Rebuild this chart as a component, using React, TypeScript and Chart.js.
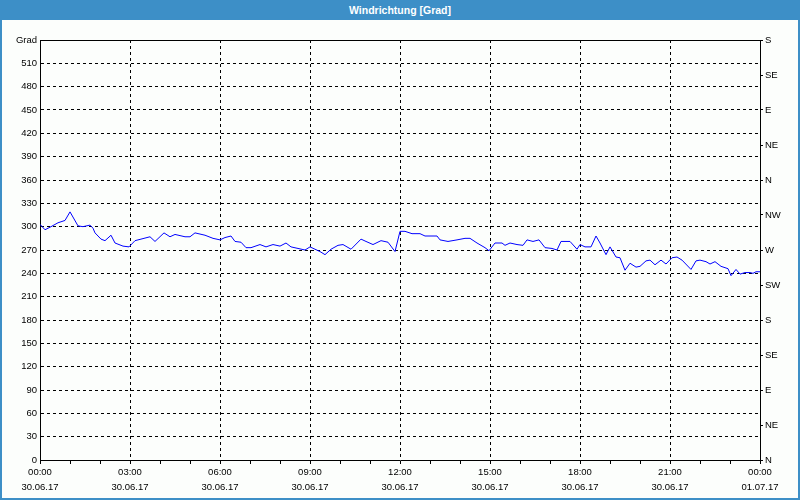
import React, { useEffect, useRef } from "react";
import { Chart, registerables } from "chart.js";

Chart.register(...registerables);

const TITLE = "Windrichtung [Grad]";

// time of each reading, minutes after 30.06.17 00:00
const minutes = [
  0, 10, 22, 36, 50, 60, 76, 86, 100, 106,
  110, 122, 130, 142, 150, 166, 178, 190, 202, 220,
  230, 248, 260, 270, 290, 300, 310, 330, 346, 360,
  370, 382, 390, 402, 412, 422, 440, 452, 466, 480,
  492, 502, 516, 530, 540, 550, 560, 570, 582, 596,
  606, 622, 642, 652, 666, 682, 696, 710, 720, 730,
  744, 760, 770, 794, 800, 816, 834, 850, 860, 874,
  890, 898, 910, 924, 930, 940, 954, 966, 974, 986,
  998, 1010, 1024, 1034, 1042, 1060, 1074, 1080, 1090, 1102,
  1112, 1120, 1132, 1140, 1152, 1160, 1170, 1180, 1192, 1200,
  1212, 1220, 1230, 1242, 1252, 1264, 1274, 1284, 1302, 1312,
  1320, 1332, 1340, 1350, 1362, 1376, 1382, 1392, 1400, 1410,
  1420, 1426, 1432, 1440,
];

// wind direction in degrees
const degrees = [
  303, 296, 300, 305, 308, 319, 301, 300, 302, 298,
  292, 284, 282, 289, 279, 275, 274, 282, 284, 287,
  281, 292, 287, 290, 287, 287, 292, 289, 285, 283,
  286, 288, 281, 280, 273, 273, 277, 274, 277, 275,
  279, 274, 272, 270, 274, 271, 268, 264, 271, 276,
  277, 271, 284, 281, 277, 282, 280, 268, 294, 294,
  291, 291, 288, 288, 283, 281, 283, 285, 285, 279,
  273, 269, 279, 279, 276, 279, 277, 276, 283, 281,
  283, 273, 272, 270, 281, 281, 271, 277, 274, 274,
  288, 279, 264, 274, 261, 260, 244, 253, 248, 249,
  256, 257, 251, 257, 252, 260, 261, 257, 245, 256,
  257, 255, 252, 255, 249, 246, 237, 245, 239, 241,
  241, 240, 242, 242,
];

// x tick labels (every 3 hours)
const xTickTimes = ["00:00", "03:00", "06:00", "09:00", "12:00", "15:00", "18:00", "21:00", "00:00"];
const xTickDates = ["30.06.17", "30.06.17", "30.06.17", "30.06.17", "30.06.17", "30.06.17", "30.06.17", "30.06.17", "01.07.17"];

// right axis compass labels from 0 to 540 in 45° steps
const compassLabels = ["N", "NE", "E", "SE", "S", "SW", "W", "NW", "N", "NE", "E", "SE", "S"];

const Y_UNIT = "Grad";
const Y_MAX = 540;

const FONT = { family: "'Liberation Sans', Arial, sans-serif", size: 9.5 };

export default function App() {
  const canvasRef = useRef<HTMLCanvasElement | null>(null);

  useEffect(() => {
    const canvas = canvasRef.current;
    if (!canvas) return;

    const framePlugin = {
      id: "frameTop",
      afterDraw(chart: any) {
        const { ctx, chartArea } = chart;
        ctx.save();
        ctx.strokeStyle = "#000";
        ctx.lineWidth = 1;
        ctx.beginPath();
        const y = Math.round(chartArea.top) + 0.5;
        ctx.moveTo(Math.round(chartArea.left), y);
        ctx.lineTo(Math.round(chartArea.right) + 1, y);
        ctx.stroke();
        ctx.restore();
      },
    };

    const chart = new Chart(canvas, {
      type: "line",
      data: {
        datasets: [
          {
            data: minutes.map((m, i) => ({ x: m, y: degrees[i] })),
            borderColor: "#0000ff",
            borderWidth: 1,
            pointRadius: 0,
            tension: 0,
            fill: false,
          },
        ],
      },
      options: {
        responsive: false,
        animation: false,
        events: [],
        layout: { padding: { top: 20, left: 0, right: 0, bottom: 0 } },
        plugins: { legend: { display: false }, tooltip: { enabled: false }, title: { display: false } },
        scales: {
          x: {
            type: "linear",
            min: 0,
            max: 1440,
            afterFit(scale: any) {
              scale.height = 38;
            },
            border: { display: true, color: "#000", width: 1, dash: [3, 3] },
            grid: {
              color: (c: any) => (c.tick && c.tick.value % 180 === 0 ? "#000" : "rgba(0,0,0,0)"),
              tickColor: "#000",
              tickLength: 4,
              lineWidth: 1,
            },
            ticks: {
              stepSize: 60,
              autoSkip: false,
              maxRotation: 0,
              minRotation: 0,
              padding: 1,
              color: "#000",
              font: { ...FONT, lineHeight: 1.6 },
              callback: (v: any) => {
                const n = Number(v);
                if (n % 180 !== 0) return "";
                const i = n / 180;
                return [xTickTimes[i], xTickDates[i]];
              },
            },
          },
          y: {
            type: "linear",
            position: "left",
            min: 0,
            max: Y_MAX,
            afterFit(scale: any) {
              scale.width = 38;
            },
            border: { display: true, color: "#000", width: 1, dash: [3, 3] },
            grid: { color: "#000", lineWidth: 1, drawTicks: false },
            ticks: {
              stepSize: 30,
              padding: 3,
              color: "#000",
              font: FONT,
              callback: (v: any) => (Number(v) === Y_MAX ? Y_UNIT : String(v)),
            },
          },
          y2: {
            type: "linear",
            position: "right",
            min: 0,
            max: Y_MAX,
            afterFit(scale: any) {
              scale.width = 38;
            },
            border: { display: true, color: "#000", width: 1 },
            grid: { drawOnChartArea: false, tickColor: "#000", tickLength: 3 },
            ticks: {
              stepSize: 45,
              padding: 2,
              color: "#000",
              font: FONT,
              callback: (v: any) => compassLabels[Math.round(Number(v) / 45)] ?? "",
            },
          },
        },
      },
      plugins: [framePlugin],
    } as any);

    return () => chart.destroy();
  }, []);

  return (
    <div style={{ position: "fixed", left: 0, top: 0, width: 800, height: 500, background: "#fcfefc" }}>
      <div
        style={{
          height: 20,
          width: 800,
          background: "#3d8fc7",
          color: "#fff",
          fontFamily: "'Liberation Sans', Arial, sans-serif",
          fontWeight: "bold",
          fontSize: 10.5,
          lineHeight: "20px",
          textAlign: "center",
        }}
      >
        {TITLE}
      </div>
      <div
        style={{
          width: 800,
          height: 480,
          boxSizing: "border-box",
          borderLeft: "2px solid #3d8fc7",
          borderRight: "2px solid #3d8fc7",
          borderBottom: "2px solid #3d8fc7",
        }}
      >
        <canvas ref={canvasRef} width={796} height={478} style={{ display: "block" }} />
      </div>
    </div>
  );
}
